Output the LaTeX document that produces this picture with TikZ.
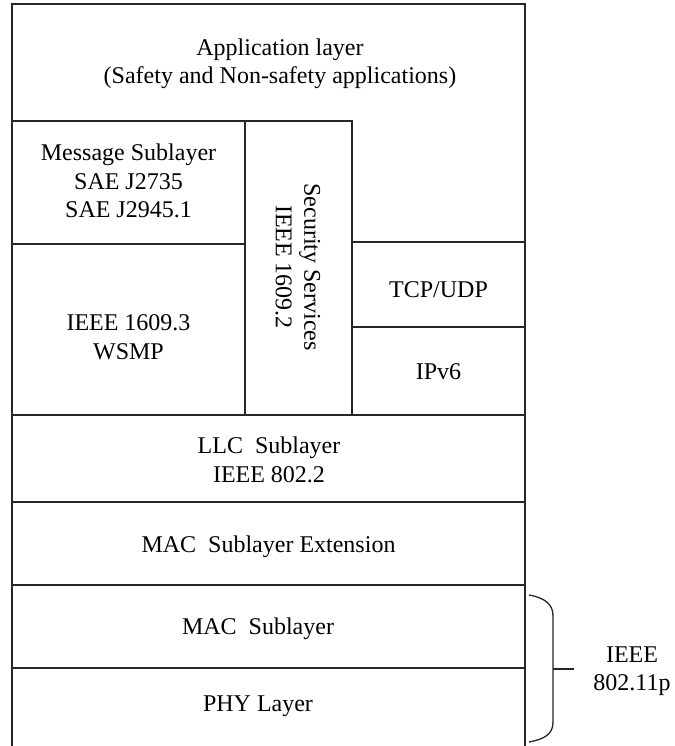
\documentclass[tikz,border=0pt]{standalone}
\usepackage{fontspec}
\setmainfont{Liberation Serif}
\begin{document}
\begin{tikzpicture}[x=1pt,y=-1pt,
  rule/.style={line width=1.3pt, draw=black!85},
  lbl/.style={font=\fontsize{24}{28.5}\selectfont, align=center, inner sep=0pt}]
\useasboundingbox (0,0) rectangle (674,746);

% outer frame, open at the bottom
\coordinate (TL) at (12,4);
\coordinate (TR) at (525,4);
\coordinate (BL) at (12,746);
\coordinate (BR) at (525,746);
\draw[rule] (BL) -- (TL) -- (TR) -- (BR);

% upper stack: message, security and IP columns
\draw[rule] (12,121) -- (352,121) -- (352,415);
\draw[rule] (245,121) -- (245,415);
\draw[rule] (12,244) -- (245,244);
\draw[rule] (352,242) -- (525,242);
\draw[rule] (352,327) -- (525,327);

% full-width layer boundaries
\foreach \y in {415,502,585,668}
  \draw[rule] (12,\y) -- (525,\y);

% layer labels
\node[lbl] (app)  at (280,64)  {Application layer\\(Safety and Non-safety applications)};
\node[lbl] (msg)  at (128.5,181) {Message Sublayer\\SAE J2735\\SAE J2945.1};
\node[lbl] (wsmp) at (128.5,337) {IEEE 1609.3\\WSMP};
\node[lbl, rotate=-90] (sec) at (298,267) {Security Services\\IEEE 1609.2};
\node[lbl] (tcp)  at (438.5,290) {TCP/UDP};
\node[lbl] (ip)   at (438.5,372) {IPv6};
\node[lbl] (llc)  at (269,460) {LLC\ \ Sublayer\\IEEE 802.2};
\node[lbl] (macx) at (268.5,547) {MAC\ \ Sublayer Extension};
\node[lbl] (mac)  at (258,629) {MAC\ \ Sublayer};
\node[lbl] (phy)  at (258,706) {PHY Layer};
\node[lbl] (std)  at (632,671) {IEEE\\802.11p};

% brace grouping the MAC and PHY layers
\coordinate (bTop) at (529,595);
\coordinate (bBot) at (529,742);
\coordinate (bTip) at (553,669);
\coordinate (bEnd) at (574,669);
\draw[rule] (bTop) .. controls (545,598) and (553,604) .. (553,616)
  -- (553,722) .. controls (553,734) and (545,739) .. (bBot);
\draw[rule] (bTip) -- (bEnd);
\end{tikzpicture}
\end{document}
